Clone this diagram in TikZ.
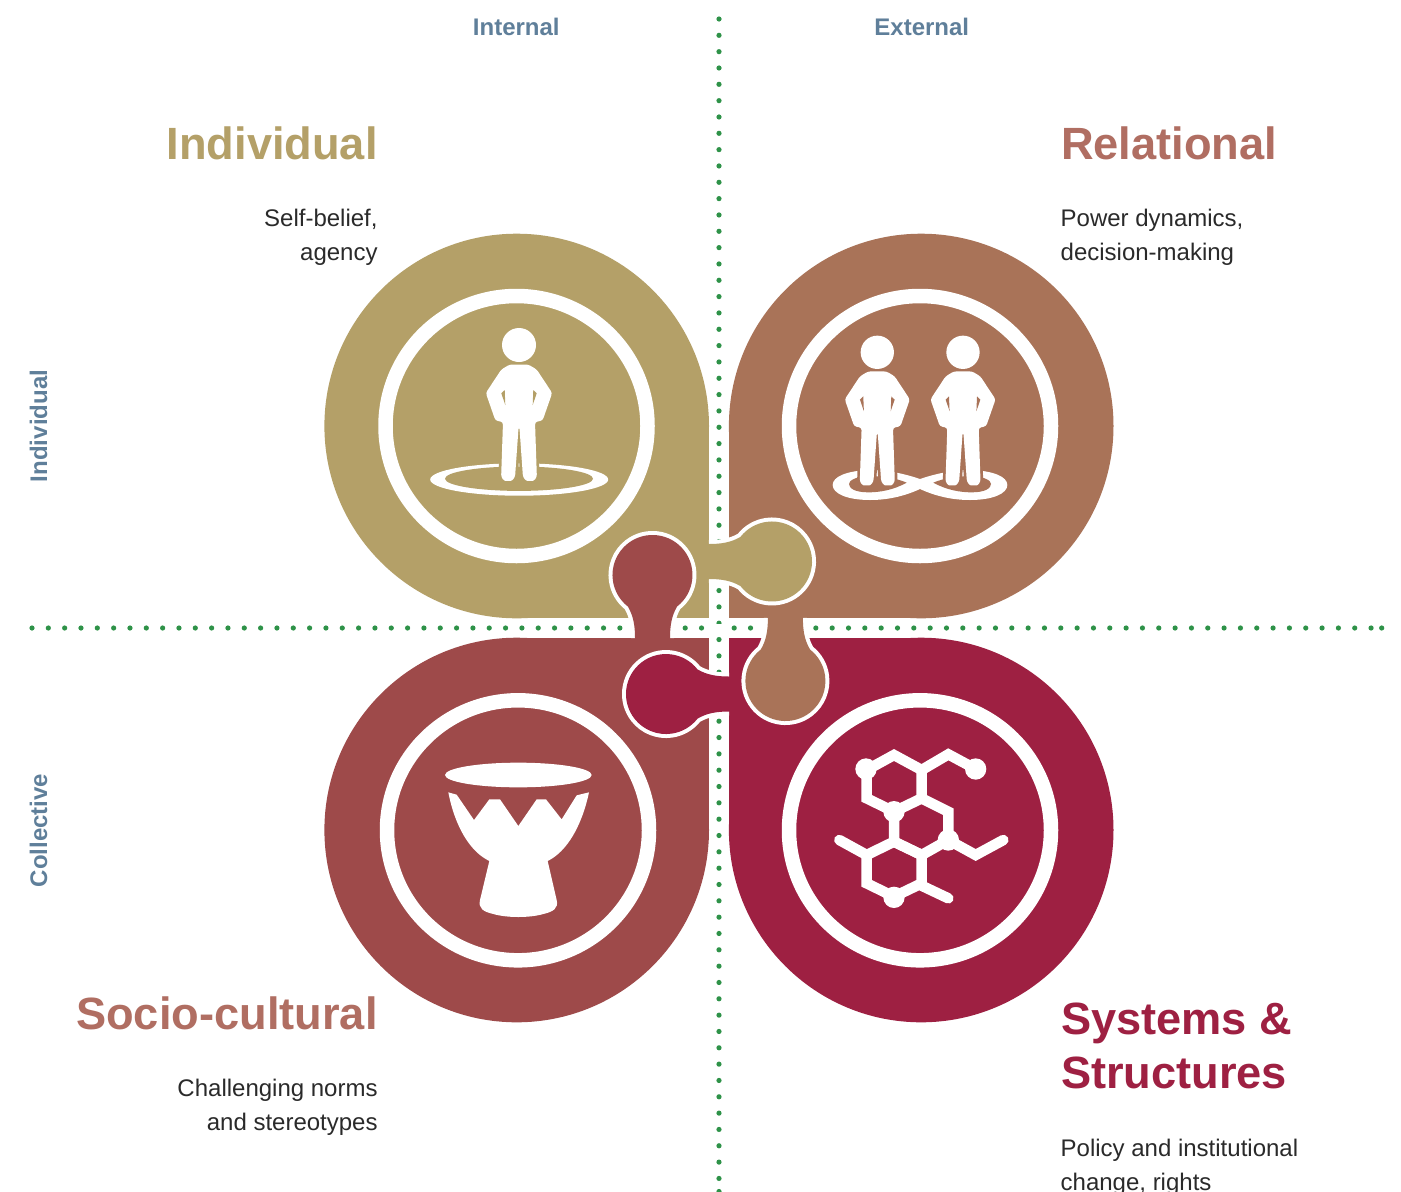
\documentclass[tikz,border=0pt]{standalone}
\usepackage{fontspec}
\setmainfont{Liberation Sans}
\definecolor{tanc}{HTML}{B4A068}
\definecolor{clayc}{HTML}{A97358}
\definecolor{brickc}{HTML}{9E4A4A}
\definecolor{crimsonc}{HTML}{9E2042}
\definecolor{rosec}{HTML}{B06E62}
\definecolor{slatec}{HTML}{5F7F9A}
\definecolor{greenc}{HTML}{2E9248}
\definecolor{inkc}{HTML}{2A2A2A}
\tikzset{
  ringline/.style={draw=white,line width=14.5pt},
  heading/.style={font=\fontsize{45.2}{45.2}\selectfont\bfseries,inner sep=0pt},
  bodytext/.style={font=\fontsize{24}{24}\selectfont,text=inkc,inner sep=0pt},
  axislabel/.style={font=\fontsize{24}{24}\selectfont\bfseries,text=slatec,inner sep=0pt},
  bond/.style={draw=white,line width=10.5pt,line join=miter},
  bondend/.style={draw=white,line width=10.5pt,line cap=round,line join=miter},
}
\newcommand{\knobcurve}{(0,17.5) .. controls (12,17.5) and (22,19) .. (31.5,24.6)
  arc[start angle=142,end angle=-142,radius=40]
  .. controls (22,-19) and (12,-17.5) .. (0,-17.5)}
\newcommand{\knobshape}[4]{%
  \begin{scope}[shift={(#1,#2)},rotate=#3]
    \draw[white,line width=8pt] \knobcurve;
    \fill[#4] (-1.5,17.5) -- \knobcurve -- (-1.5,-17.5) -- cycle;
  \end{scope}}
\newcommand{\personpath}{(0,19.5) -- (9.3,19.5) -- (17.7,24.5) -- (33.2,48) -- (23.6,75.5) -- (16,77)
  -- (17.7,127) .. controls (17.9,133) and (15,135.9) .. (11,135.9)
  .. controls (7,135.9) and (4,133) .. (3.6,127) -- (0.4,81.7) -- (-0.4,81.7) -- (-3.6,127)
  .. controls (-4,133) and (-7,135.9) .. (-11,135.9)
  .. controls (-15,135.9) and (-17.9,133) .. (-17.7,127)
  -- (-16,77) -- (-23.6,75.5) -- (-33.2,48) -- (-17.7,24.5) -- (-9.3,19.5) -- cycle}
\newcommand{\personicon}[4]{%
  \begin{scope}[shift={(#1,#2)},scale=#3]
    \draw[#4,line width=5.4pt,rounded corners=2.5pt] \personpath;
    \fill[white,rounded corners=2.5pt] \personpath;
    \fill[white] (0,0) circle (17);
    \fill[#4] (14.3,45) -- (17.7,48.3) -- (13.7,60) -- cycle;
    \fill[#4] (-14.3,45) -- (-17.7,48.3) -- (-13.7,60) -- cycle;
  \end{scope}}
\begin{document}
\begin{tikzpicture}[x=1pt,y=-1pt]
\path[use as bounding box,fill=white] (0,0) rectangle (1401,1192);

% dotted axes
\foreach \n in {0,...,71}{\fill[greenc] ({719},{19+16.33*\n}) circle (2.6);}
\fill[greenc] (719,1191.5) circle (2.6);
\foreach \n in {0,...,82}{\fill[greenc] ({32+16.33*\n},{628}) circle (2.6);}
\fill[greenc] (1381.7,628) circle (2.6);
\fill[white] (710,623.6) rectangle (728,633.5);

% quadrants
\fill[tanc] (516.7,426) circle (192.3);
\fill[tanc] (516.7,426) rectangle (709,618);
\fill[clayc] (921.2,426) circle (192.3);
\fill[clayc] (729,426) rectangle (921.2,618);
\fill[brickc] (516.7,830) circle (192.3);
\fill[brickc] (516.7,638) rectangle (709,830);
\fill[crimsonc] (921.2,830) circle (192.3);
\fill[crimsonc] (729,638) rectangle (921.2,830);

% rings
\draw[ringline] (516.5,426) ellipse (131 and 130);
\draw[ringline] (920,426) ellipse (131 and 130);
\draw[ringline] (518,830.3) ellipse (131 and 130);
\draw[ringline] (920,830.3) ellipse (131 and 130);

% puzzle knobs
\knobshape{709}{561.5}{0}{tanc}
\knobshape{652.5}{638}{90}{brickc}
\knobshape{729}{694}{180}{crimsonc}
\knobshape{785.4}{618}{-90}{clayc}

% Individual icon
\fill[white] (519.2,479.5) ellipse (89 and 16.2);
\fill[tanc] (519,478.7) ellipse (74 and 12.2);
\personicon{519}{345}{1}{tanc}

% Relational icon
\begin{scope}[shift={(790,300)},scale=1/3]
  \fill[white] (390,567) .. controls (340,590) and (290,600) .. (240,600)
    .. controls (170,600) and (128,580) .. (128,555)
    .. controls (128,530) and (170,512) .. (240,510)
    .. controls (290,510) and (340,520) .. (390,537)
    .. controls (440,520) and (490,510) .. (540,510)
    .. controls (610,512) and (652,530) .. (652,555)
    .. controls (652,580) and (610,600) .. (540,600)
    .. controls (490,600) and (440,590) .. (390,567) -- cycle;
  \fill[clayc] (350,548) .. controls (310,570) and (270,577) .. (235,577)
    .. controls (195,577) and (177,565) .. (177,552)
    .. controls (177,540) and (200,530) .. (235,528)
    .. controls (280,528) and (320,535) .. (350,548) -- cycle;
  \fill[clayc] (430,548) .. controls (470,570) and (510,577) .. (545,577)
    .. controls (585,577) and (603,565) .. (603,552)
    .. controls (603,540) and (580,530) .. (545,528)
    .. controls (500,528) and (460,535) .. (430,548) -- cycle;
\end{scope}
\personicon{877.3}{352.3}{0.98}{clayc}
\personicon{963}{352.3}{0.98}{clayc}

% Socio-cultural icon (drum)
\begin{scope}[shift={(400,720)},scale=1/3]
  \fill[white] (355,165) ellipse (220 and 37);
  \fill[white] (145,217) -- (170,224) -- (222,300) -- (268,238) -- (300,238) -- (355,318)
    -- (410,238) -- (438,238) -- (485,298) -- (530,226) -- (567,217)
    .. controls (545,320) and (500,395) .. (443,423)
    -- (470,540) .. controls (476,565) and (460,575) .. (430,582)
    .. controls (390,594) and (320,594) .. (280,582)
    .. controls (250,575) and (234,565) .. (240,540)
    -- (268,423) .. controls (210,395) and (165,320) .. (145,217) -- cycle;
\end{scope}

% Systems icon (molecule)
\begin{scope}[shift={(810,720)},scale=1/3]
  \draw[bond] (252,105) -- (335,150) -- (335,235) -- (252,275) -- (170,235) -- (170,150) -- cycle;
  \draw[bond] (335,235) -- (415,275) -- (415,360) -- (335,405) -- (252,365) -- (252,275);
  \draw[bond] (252,365) -- (335,405) -- (335,490) -- (252,530) -- (170,490) -- (170,405) -- cycle;
  \draw[bond] (335,150) -- (415,103) -- (497,147);
  \draw[bondend] (170,405) -- (88,360);
  \draw[bondend] (335,497) -- (415,535);
  \draw[bondend] (415,360) -- (497,405) -- (580,360);
  \fill[white] (168,147) circle (32);
  \fill[white] (497,147) circle (32);
  \fill[white] (252,275) circle (32);
  \fill[white] (415,360) circle (32);
  \fill[white] (252,532) circle (32);
\end{scope}

% axis labels
\node[axislabel,anchor=base] (internal) at (516.3,35) {Internal};
\node[axislabel,anchor=base] (external) at (921.8,35) {External};
\node[axislabel,anchor=base,rotate=90] (rowindividual) at (47,426) {Individual};
\node[axislabel,anchor=base,rotate=90] (rowcollective) at (47,830.5) {Collective};

% headings and descriptions
\node[heading,text=tanc,anchor=base east] (individual) at (377.8,159) {Individual};
\node[bodytext,anchor=base east] (individualA) at (377.8,226) {Self-belief,};
\node[bodytext,anchor=base east] (individualB) at (377.8,260) {agency};

\node[heading,text=rosec,anchor=base west] (relational) at (1060.8,159) {Relational};
\node[bodytext,anchor=base west] (relationalA) at (1060.5,226) {Power dynamics,};
\node[bodytext,anchor=base west] (relationalB) at (1060.5,260) {decision-making};

\node[heading,text=rosec,anchor=base east] (socio) at (377.8,1029) {Socio-cultural};
\node[bodytext,anchor=base east] (socioA) at (377.8,1096) {Challenging norms};
\node[bodytext,anchor=base east] (socioB) at (377.8,1130) {and stereotypes};

\node[heading,text=crimsonc,anchor=base west] (systemsA) at (1060.8,1034) {Systems \&};
\node[heading,text=crimsonc,anchor=base west] (systemsB) at (1060.8,1088) {Structures};
\node[bodytext,anchor=base west] (systemsC) at (1060.5,1156) {Policy and institutional};
\node[bodytext,anchor=base west] (systemsD) at (1060.5,1190) {change, rights};
\end{tikzpicture}
\end{document}
